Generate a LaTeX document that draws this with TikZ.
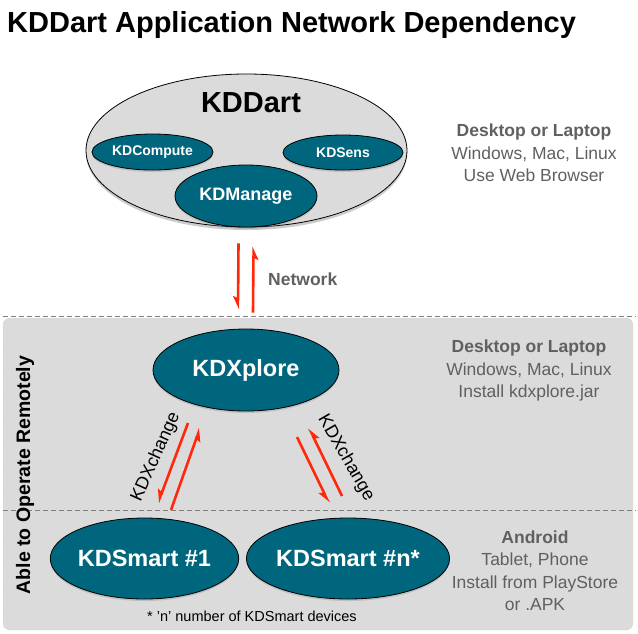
\documentclass[tikz,border=0pt]{standalone}
\usepackage{fontspec}
\setmainfont{Liberation Sans}
\usepackage{tikz}
\usetikzlibrary{calc, positioning, arrows.meta, shapes.geometric, shadows}
\definecolor{kdteal}{RGB}{0,102,125}
\definecolor{kdgray}{RGB}{219,219,219}
\definecolor{kdtext}{RGB}{96,96,96}
\definecolor{kdred}{RGB}{255,40,10}

\begin{document}
\begin{tikzpicture}[x=1pt, y=-1pt,
        app/.style={ellipse, draw=black, fill=kdteal, text=white, inner sep=0pt, line width=0.8pt,
            drop shadow={opacity=0.3, shadow xshift=0pt, shadow yshift=-2pt}},
        platform/.style={align=center, text=kdtext, inner sep=0pt, font=\fontsize{17.5}{22.5}\selectfont},
        link/.style={draw=kdred, line width=2.6pt, -{Stealth[harpoon, swap, length=11pt, width=10pt, inset=2pt]}},
        xlabel/.style={inner sep=0pt, font=\fontsize{18}{21}\selectfont},
        sep/.style={draw=gray, line width=1pt, dash pattern=on 5pt off 3pt}]
    \useasboundingbox (0,0) rectangle (638,633);

    % remote part
    \draw[draw=gray!80, dotted, fill=kdgray, rounded corners=7pt] (3,318) rectangle (633,630);
    \draw[sep] (3,316) -- (636,316);
    \draw[sep] (3,510) -- (636,510);

    \node[anchor=base west, inner sep=0pt, font=\bfseries\fontsize{29}{34}\selectfont] (title) at (7,32) {KDDart Application Network Dependency};

    % server
    \node[ellipse, draw=black, fill=kdgray, line width=0.8pt, minimum width=321pt, minimum height=153pt, inner sep=0pt,
        drop shadow={opacity=0.4, shadow xshift=0pt, shadow yshift=-3pt}] (kddart) at (246.5,150.5) {};
    \node[anchor=base, inner sep=0pt, font=\bfseries\fontsize{29}{34}\selectfont] (kddartname) at (251,112) {KDDart};
    \node[app, minimum width=121pt, minimum height=36pt, font=\bfseries\fontsize{14}{17}\selectfont] (kdcompute) at (152.5,152) {KDCompute};
    \node[app, minimum width=120pt, minimum height=35pt, font=\bfseries\fontsize{14}{17}\selectfont] (kdsens) at (343,152.5) {KDSens};
    \node[app, minimum width=142pt, minimum height=62pt, font=\bfseries\fontsize{18}{21}\selectfont] (kdmanage) at (246,196) {KDManage};

    % clients
    \node[app, minimum width=186pt, minimum height=82pt, font=\bfseries\fontsize{23.5}{27}\selectfont] (kdxplore) at (246,370) {KDXplore};
    \node[app, minimum width=185pt, minimum height=81pt, font=\bfseries\fontsize{23.5}{27}\selectfont] (kdsmartone) at (144.5,558.5) {KDSmart \#1};
    \node[app, minimum width=186pt, minimum height=81pt, font=\bfseries\fontsize{23.5}{27}\selectfont] (kdsmartn) at (348,558.5) {KDSmart \#n*};

    \node[rotate=90, inner sep=0pt, font=\bfseries\fontsize{19.5}{22}\selectfont] (remote) at (25,475) {Able to Operate Remotely};
    \node[anchor=base, inner sep=0pt, font=\fontsize{14.5}{17}\selectfont] (note) at (252,621) {* ’n’ number of KDSmart devices};

    \node[platform] (deskweb) at (534,153) {\textbf{Desktop or Laptop}\\Windows, Mac, Linux\\Use Web Browser};
    \node[platform] (deskjar) at (529,370.5) {\textbf{Desktop or Laptop}\\Windows, Mac, Linux\\Install kdxplore.jar};
    \node[platform] (android) at (535,570.5) {\textbf{Android}\\Tablet, Phone\\Install from PlayStore\\or .APK};

    % links
    \draw[link] ([shift={(-8,16)}]kddart.south) -- ([shift={(-8,-19)}]kdxplore.north);
    \draw[link] ([shift={(7,-16)}]kdxplore.north) -- ([shift={(7,19)}]kddart.south);
    \node[anchor=base west, inner sep=0pt, text=kdtext, font=\bfseries\fontsize{17.5}{21}\selectfont] (network) at (268,285) {Network};

    \draw[link] ([shift={(-58,53)}]kdxplore.center) -- ([shift={(13.5,-55.5)}]kdsmartone.center);
    \draw[link] ([shift={(26.5,-48.5)}]kdsmartone.center) -- ([shift={(-46,58)}]kdxplore.center);
    \draw[link] ([shift={(51,67)}]kdxplore.center) -- ([shift={(-19,-55.5)}]kdsmartn.center);
    \draw[link] ([shift={(-6,-62.5)}]kdsmartn.center) -- ([shift={(63,58)}]kdxplore.center);
    \node[xlabel, rotate=66] (xchangeone) at (156,457) {KDXchange};
    \node[xlabel, rotate=-60] (xchangen) at (346,458) {KDXchange};
\end{tikzpicture}
\end{document}
